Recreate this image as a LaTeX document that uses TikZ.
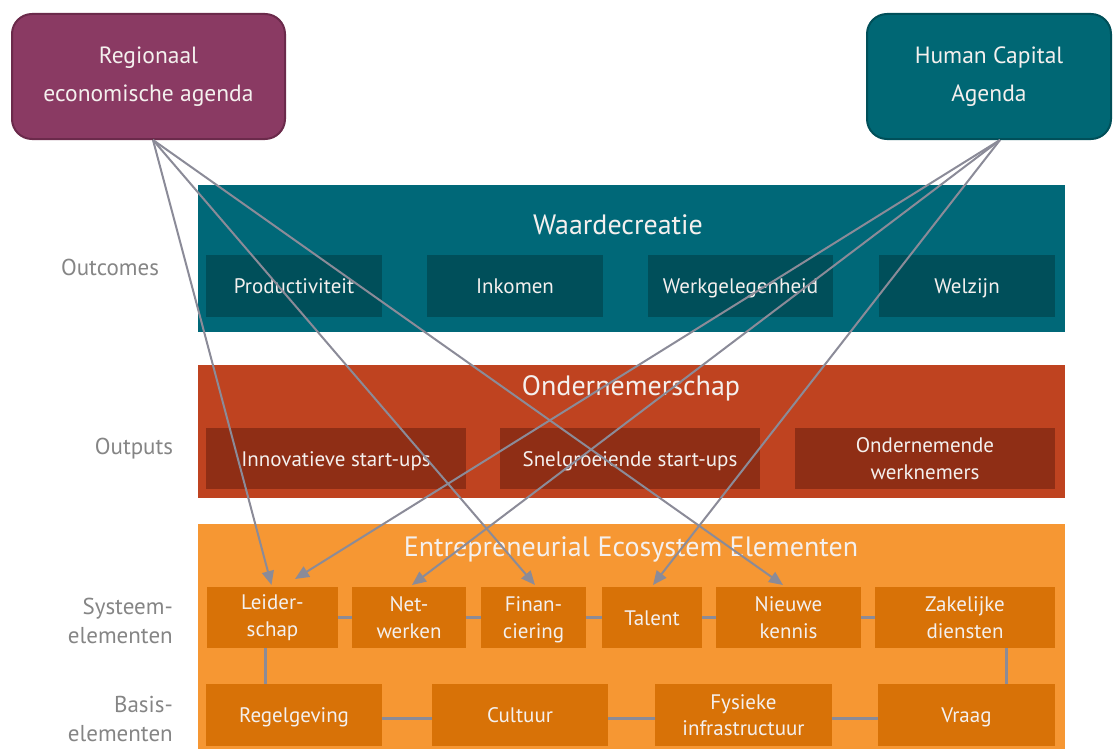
\documentclass[tikz,border=0pt]{standalone}
\usepackage{fontspec}
\setmainfont{PT Sans}
\usetikzlibrary{arrows.meta}
\definecolor{purp}{HTML}{8A3A63}
\definecolor{purpb}{HTML}{6B2A4B}
\definecolor{tealtop}{HTML}{006774}
\definecolor{tealtopb}{HTML}{004F59}
\definecolor{tealband}{HTML}{006878}
\definecolor{tealin}{HTML}{004F5A}
\definecolor{redband}{HTML}{BF4320}
\definecolor{redin}{HTML}{8F2E15}
\definecolor{orband}{HTML}{F69733}
\definecolor{orin}{HTML}{D87207}
\definecolor{lgray}{HTML}{8B8B98}
\definecolor{labgray}{HTML}{858585}
\definecolor{txt}{HTML}{F4F0EE}
\begin{document}
\begin{tikzpicture}[x=1pt,y=-1pt,
  topbox/.style={rounded corners=20pt, line width=2pt, inner sep=0pt, minimum width=#1, minimum height=125pt, text=txt, align=center, font=\fontsize{23.5}{38}\selectfont},
  band/.style={inner sep=0pt, outer sep=0pt, minimum width=867pt},
  ibox/.style={inner sep=0pt, outer sep=0pt, text=txt, align=center, font=\fontsize{21}{26.5}\selectfont},
  sl/.style={text height=15pt, text depth=0pt},
  btitle/.style={inner sep=0pt, text=txt, font=\fontsize{28}{32}\selectfont},
  lab/.style={inner sep=0pt, text=labgray, align=right, font=\fontsize{23}{29}\selectfont},
  conn/.style={draw=lgray, line width=3pt},
  arr/.style={draw=lgray, line width=2pt, -{Triangle[length=14pt,width=12pt]}}]
\useasboundingbox (0,0) rectangle (1113,749);
% top boxes
\node[topbox=273pt, fill=purp, draw=purpb] (rea) at (148.5,76.5) {Regionaal\\economische agenda};
\node[topbox=244pt, fill=tealtop, draw=tealtopb] (hca) at (989,76.5) {Human Capital\\Agenda};
% bands
\node[band, fill=tealband, minimum height=147pt] (wc) at (631.5,258.5) {};
\node[band, fill=redband, minimum height=133pt] (on) at (631.5,431.5) {};
\node[band, fill=orband, minimum height=225pt] (ee) at (631.5,636.5) {};
\node[btitle] (wct) at (618,225) {Waardecreatie};
\node[btitle] (ont) at (631,388) {Ondernemerschap};
\node[btitle] (eet) at (631,549) {Entrepreneurial Ecosystem Elementen};
% left labels
\node[lab] (l1) at (110,267) {Outcomes};
\node[lab] (l2) at (134,449) {Outputs};
\node[lab, anchor=east] (l3) at (173,620.5) {Systeem-\\elementen};
\node[lab, anchor=east] (l4) at (173,718.5) {Basis-\\elementen};
% outcomes
\node[ibox, sl, fill=tealin, minimum width=176pt, minimum height=62pt] (prod) at (294,286) {Productiviteit};
\node[ibox, sl, fill=tealin, minimum width=176pt, minimum height=62pt] (ink) at (515,286) {Inkomen};
\node[ibox, sl, fill=tealin, minimum width=185pt, minimum height=62pt] (werk) at (740.5,286) {Werkgelegenheid};
\node[ibox, sl, fill=tealin, minimum width=176pt, minimum height=62pt] (welz) at (967,286) {Welzijn};
% outputs
\node[ibox, sl, fill=redin, minimum width=260pt, minimum height=61pt] (inno) at (336,458.5) {Innovatieve start-ups};
\node[ibox, sl, fill=redin, minimum width=260pt, minimum height=61pt] (snel) at (630,458.5) {Snelgroeiende start-ups};
\node[ibox, fill=redin, minimum width=260pt, minimum height=61pt] (ondw) at (925,458.5) {Ondernemende\\werknemers};
% system elements
\node[ibox, fill=orin, minimum width=131pt, minimum height=61pt] (lead) at (272.5,617.5) {Leider-\\schap};
\node[ibox, fill=orin, minimum width=114pt, minimum height=61pt] (net) at (409,617.5) {Net-\\werken};
\node[ibox, fill=orin, minimum width=105pt, minimum height=61pt, text depth=0pt] (fin) at (533.5,617.5) {Finan-\\ciering};
\node[ibox, sl, fill=orin, minimum width=100pt, minimum height=61pt] (tal) at (652,617.5) {Talent};
\node[ibox, fill=orin, minimum width=145pt, minimum height=61pt] (nk) at (788.5,617.5) {Nieuwe\\kennis};
\node[ibox, fill=orin, minimum width=180pt, minimum height=61pt] (zak) at (965,617.5) {Zakelijke\\diensten};
% basis elements
\node[ibox, sl, fill=orin, minimum width=176pt, minimum height=62pt] (reg) at (294,715) {Regelgeving};
\node[ibox, sl, fill=orin, minimum width=176pt, minimum height=62pt] (cul) at (520,715) {Cultuur};
\node[ibox, fill=orin, minimum width=177pt, minimum height=62pt] (fys) at (743.5,715) {Fysieke\\infrastructuur};
\node[ibox, sl, fill=orin, minimum width=177pt, minimum height=62pt] (vra) at (966.5,715) {Vraag};
% lines
\draw[conn] (lead.east) -- (net.west);
\draw[conn] (net.east) -- (fin.west);
\draw[conn] (fin.east) -- (tal.west);
\draw[conn] (tal.east) -- (nk.west);
\draw[conn] (nk.east) -- (zak.west);
\draw[conn] ([yshift=-3pt]reg.east) -- ([yshift=-3pt]cul.west);
\draw[conn] ([yshift=-3pt]cul.east) -- ([yshift=-3pt]fys.west);
\draw[conn] ([yshift=-3pt]fys.east) -- ([yshift=-3pt]vra.west);
\draw[conn] ([xshift=-7.5pt]lead.south) -- ([xshift=-7.5pt]lead.south |- reg.north);
\draw[conn] ([xshift=41pt]zak.south) -- ([xshift=41pt]zak.south |- vra.north);
% arrows
\coordinate (rs) at (153,140);
\coordinate (hs) at (1000,140);
\draw[arr] (rs) -- ([yshift=2pt,xshift=-1pt]lead.north);
\draw[arr] (rs) -- ([yshift=2pt,xshift=1.5pt]fin.north);
\draw[arr] (rs) -- ([yshift=2pt,xshift=-5.5pt]nk.north);
\draw[arr] (hs) -- ([yshift=8pt,xshift=22.5pt]lead.north);
\draw[arr] (hs) -- ([yshift=2pt,xshift=3pt]net.north);
\draw[arr] (hs) -- ([yshift=2pt,xshift=1pt]tal.north);
\end{tikzpicture}
\end{document}
